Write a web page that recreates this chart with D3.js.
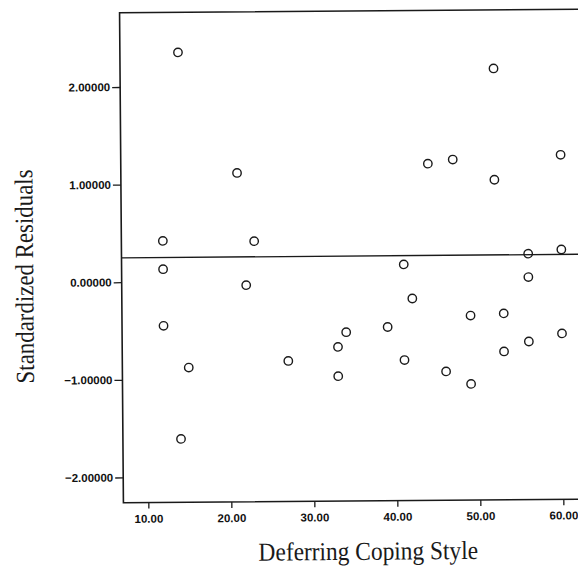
<!DOCTYPE html>
<html>
<head>
<meta charset="utf-8">
<script src="https://cdn.jsdelivr.net/npm/d3@7/dist/d3.min.js"></script>
<style>
  html, body { margin: 0; padding: 0; background: #fff; }
  svg { display: block; }
  .tick text { font-family: "Liberation Sans", Arial, sans-serif; fill: #111; }
</style>
</head>
<body>
<svg id="chart" width="578" height="567"></svg>
<script>
// Deferring coping style scores and the standardized residuals at each score
const copingScores = [14, 52, 21, 44, 47, 52, 60, 12, 23, 56, 60, 12, 41, 22, 56, 42,
                      12, 39, 34, 49, 53, 60, 33, 27, 41, 56, 53, 15, 33, 46, 49, 14];
const residuals = [2.35, 2.16, 1.11, 1.19, 1.23, 1.02, 1.27, 0.42, 0.41, 0.26, 0.30, 0.13,
                   0.16, -0.04, 0.02, -0.19, -0.45, -0.48, -0.53, -0.37, -0.35, -0.56, -0.68,
                   -0.82, -0.82, -0.64, -0.74, -0.88, -0.98, -0.94, -1.07, -1.61];
// Horizontal reference line (mean level of the residuals)
const referenceLevel = 0.25;
const xTicks = [10, 20, 30, 40, 50, 60];
const yTicks = [-2, -1, 0, 1, 2];
const xTitle = "Deferring Coping Style";
const yTitle = "Standardized Residuals";

const svg = d3.select("#chart");
const ink = "#1a1a1a";

const x = d3.scaleLinear().domain([7, 63]).range([121.5, 586.3]);
const y = d3.scaleLinear().domain([-2.26, 2.76]).range([501.1, 11.1]);

// the whole plate sits at a slight tilt
const g = svg.append("g").attr("transform", "rotate(-0.45, 340, 258)");

// frame: left, top and bottom edges
const [x0, x1] = x.range();
const [yb, yt] = y.range();
g.append("path")
  .attr("d", `M${x1},${yt} H${x0} V${yb} H${x1}`)
  .attr("fill", "none").attr("stroke", ink).attr("stroke-width", 1.6);

// y axis
const yAxis = g.append("g").attr("transform", `translate(${x0},0)`)
  .call(d3.axisLeft(y).tickValues(yTicks).tickFormat(d3.format(".5f"))
        .tickSize(8).tickPadding(2));
yAxis.select(".domain").remove();
yAxis.selectAll(".tick line").attr("stroke", ink).attr("stroke-width", 1.3);
yAxis.selectAll(".tick text").attr("font-size", 11.5).attr("font-weight", 600)
  .attr("fill", ink);

// x axis
const xAxis = g.append("g").attr("transform", `translate(0,${yb})`)
  .call(d3.axisBottom(x).tickValues(xTicks).tickFormat(d3.format(".2f"))
        .tickSize(6).tickPadding(6));
xAxis.select(".domain").remove();
xAxis.selectAll(".tick line").attr("stroke", ink).attr("stroke-width", 1.3);
xAxis.selectAll(".tick text").attr("font-size", 11.5).attr("font-weight", 600)
  .attr("fill", ink);

// reference line
g.append("line")
  .attr("x1", x0).attr("x2", x1)
  .attr("y1", y(referenceLevel)).attr("y2", y(referenceLevel))
  .attr("stroke", ink).attr("stroke-width", 1.3);

// points
g.append("g").selectAll("circle")
  .data(copingScores.map((s, i) => ({ s, r: residuals[i] })))
  .join("circle")
  .attr("cx", d => x(d.s))
  .attr("cy", d => y(d.r))
  .attr("r", 4.2)
  .attr("fill", "none")
  .attr("stroke", ink)
  .attr("stroke-width", 1.4);

// axis titles (tall, slightly condensed serif)
g.append("text")
  .attr("transform", "translate(366,560) scale(0.9,1)")
  .attr("text-anchor", "middle")
  .attr("font-family", "'Liberation Serif', 'Times New Roman', serif")
  .attr("font-size", 26).attr("fill", ink)
  .text(xTitle);

g.append("text")
  .attr("transform", "translate(33,274) rotate(-90) scale(0.88,1)")
  .attr("text-anchor", "middle")
  .attr("font-family", "'Liberation Serif', 'Times New Roman', serif")
  .attr("font-size", 26).attr("fill", ink)
  .text(yTitle);
</script>
</body>
</html>
